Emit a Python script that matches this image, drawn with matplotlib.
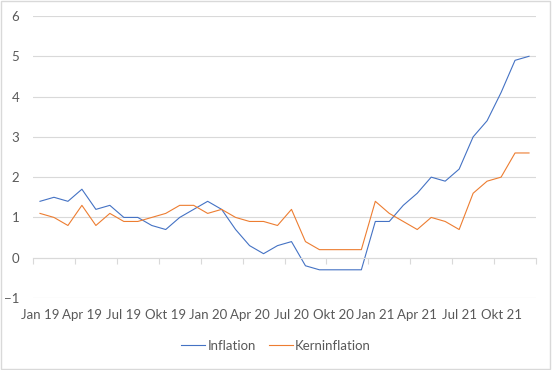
import numpy as np
from matplotlib import pyplot as plt
from matplotlib.ticker import FixedLocator

months = ["Jan", "Feb", "Mär", "Apr", "Mai", "Jun", "Jul", "Aug", "Sep", "Okt", "Nov", "Dez"]
years = ["19", "20", "21"]
categories = [f"{m} {y}" for y in years for m in months]

inflation = [1.4, 1.5, 1.4, 1.7, 1.2, 1.3, 1.0, 1.0, 0.8, 0.7, 1.0, 1.2,
             1.4, 1.2, 0.7, 0.3, 0.1, 0.3, 0.4, -0.2, -0.3, -0.3, -0.3, -0.3,
             0.9, 0.9, 1.3, 1.6, 2.0, 1.9, 2.2, 3.0, 3.4, 4.1, 4.9, 5.0]
kerninflation = [1.1, 1.0, 0.8, 1.3, 0.8, 1.1, 0.9, 0.9, 1.0, 1.1, 1.3, 1.3,
                 1.1, 1.2, 1.0, 0.9, 0.9, 0.8, 1.2, 0.4, 0.2, 0.2, 0.2, 0.2,
                 1.4, 1.1, 0.9, 0.7, 1.0, 0.9, 0.7, 1.6, 1.9, 2.0, 2.6, 2.6]

plt.rcParams['font.family'] = ['Lato', 'DejaVu Sans']

fig = plt.figure(figsize=(5.52, 3.70), dpi=100)
ax = fig.add_axes([33 / 552, 1 - 298 / 370, 503 / 552, 282 / 370])

x = np.arange(len(categories))
ax.plot(x, inflation, color="#4472C4", lw=0.8, label="Inflation")
ax.plot(x, kerninflation, color="#ED7D31", lw=0.8, label="Kerninflation")

ax.set_xlim(-0.5, len(categories) - 0.5)
ax.set_ylim(-1, 6)
ax.set_yticks(range(-1, 7))
ax.grid(axis="y", color="#D9D9D9", lw=0.8)
ax.set_axisbelow(True)

for s in ["top", "right", "left"]:
    ax.spines[s].set_visible(False)
ax.spines["bottom"].set_position(("data", 0))
ax.spines["bottom"].set_color("#D9D9D9")

ax.set_xticks(x[::3])
ax.set_xticklabels(categories[::3])
ax.xaxis.set_minor_locator(FixedLocator(np.arange(-0.5, len(categories), 3)))
ax.tick_params(axis="x", which="major", length=0, pad=37, labelsize=9.5, labelcolor="#595959")
ax.tick_params(axis="x", which="minor", length=4, color="#D9D9D9", width=0.8)
ax.tick_params(axis="y", length=0, pad=10, labelsize=9.5, labelcolor="#595959")

fig.legend(loc="center", bbox_to_anchor=(0.5, 1 - 346 / 370), ncol=2, frameon=False,
           fontsize=9.5, labelcolor="#595959", handlelength=1.8, handletextpad=0.2,
           columnspacing=1.0)

fig.patches.append(plt.Rectangle((0.002, 0.003), 0.994, 0.994, transform=fig.transFigure,
                                 fill=False, edgecolor="#D9D9D9", lw=1))

fig.savefig("out.png", dpi=100)
